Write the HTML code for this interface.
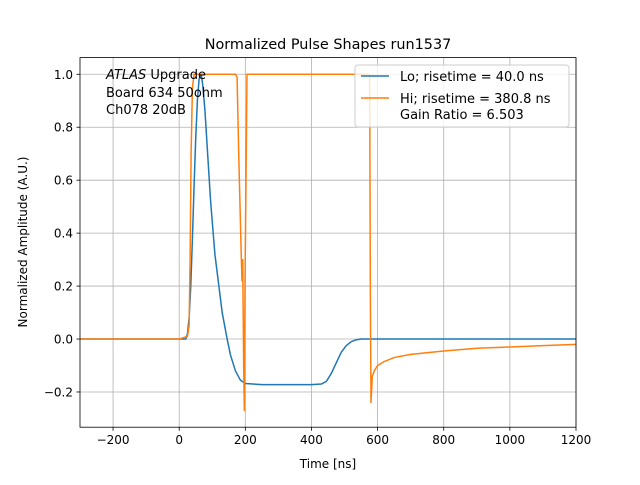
<!DOCTYPE html>
<html><head><meta charset="utf-8"><style>
body{margin:0;background:#fff}
svg text{font-family:"DejaVu Sans","Liberation Sans",sans-serif;fill:#000}
</style></head><body>
<svg id="c" width="640" height="480" xmlns="http://www.w3.org/2000/svg">
<rect width="640" height="480" fill="#fff"/>
<g id="grid"></g>
<g id="series"></g>
<rect x="80" y="57.6" width="496" height="369.6" fill="none" stroke="#000" stroke-width="0.8"/>
<g id="ticks"></g>
<text x="328" y="49" font-size="14.4" text-anchor="middle">Normalized Pulse Shapes run1537</text>
<text x="328" y="468" font-size="12" text-anchor="middle">Time [ns]</text>
<text transform="translate(27,242) rotate(-90)" font-size="12" text-anchor="middle">Normalized Amplitude (A.U.)</text>
<g font-size="13">
<text x="106" y="79"><tspan font-style="italic">ATLAS</tspan> Upgrade</text>
<text x="106" y="97"> Board 634 50ohm</text>
<text x="106" y="114"> Ch078 20dB</text>
</g>
<g>
<rect x="355" y="65" width="214" height="62" rx="3" fill="#fff" fill-opacity="0.8" stroke="#ccc"/>
<line x1="361" y1="76" x2="389" y2="76" stroke="#1f77b4" stroke-width="1.5"/>
<text x="400" y="81" font-size="13">Lo; risetime = 40.0 ns</text>
<line x1="361" y1="98" x2="389" y2="98" stroke="#ff7f0e" stroke-width="1.5"/>
<text x="400" y="103" font-size="13">Hi; risetime = 380.8 ns</text>
<text x="400" y="119" font-size="13"> Gain Ratio = 6.503</text>
</g>
</svg>
<script>
const xTicks=[-200,0,200,400,600,800,1000,1200];
const yTicks=[-0.2,0,0.2,0.4,0.6,0.8,1.0];
const loT=[-300,0,20,25,30,35,40,45,50,55,60,65,68,72,78,85,95,108,110,120,130,145,155,170,185,200,250,300,350,400,430,445,460,475,490,505,520,535,550,600,800,1000,1200];
const loV=[0,0,0,0.02,0.08,0.2,0.38,0.58,0.76,0.9,0.98,1.0,0.99,0.95,0.86,0.72,0.52,0.32,0.3,0.2,0.1,0.0,-0.06,-0.12,-0.155,-0.168,-0.172,-0.172,-0.172,-0.172,-0.17,-0.16,-0.13,-0.09,-0.05,-0.025,-0.01,-0.003,0,0,0,0,0];
const hiT=[-300,0,25,30,33,36,40,45,170,175,180,188,190,192,195,197,199,205,210,400,574,576,578,580,584,590,600,620,650,700,800,900,1000,1100,1200];
const hiV=[0,0,0.01,0.05,0.3,0.7,0.95,1.0,1.0,0.99,0.7,0.3,0.22,0.3,-0.1,-0.27,0.2,1.0,1.0,1.0,1.0,0.99,0.2,-0.24,-0.14,-0.12,-0.1,-0.085,-0.07,-0.058,-0.045,-0.035,-0.03,-0.025,-0.02];
const X0=80,X1=576,Y0=427.2,Y1=57.6,xmin=-300,xmax=1200,ymin=-0.333,ymax=1.063;
const sx=t=>X0+(t-xmin)/(xmax-xmin)*(X1-X0);
const sy=v=>Y0-(v-ymin)/(ymax-ymin)*(Y0-Y1);
const NS='http://www.w3.org/2000/svg';
const grid=document.getElementById('grid'),tk=document.getElementById('ticks'),ser=document.getElementById('series');
function mk(tag,attrs,parent){const e=document.createElementNS(NS,tag);for(const k in attrs)e.setAttribute(k,attrs[k]);parent.appendChild(e);return e;}
xTicks.forEach(t=>{const x=sx(t);
const g=mk('line',{x1:x,x2:x,y1:Y1,y2:Y0,stroke:'#b0b0b0','stroke-width':0.8},grid);


mk('line',{x1:x,x2:x,y1:Y0,y2:Y0+3.5,stroke:'#000','stroke-width':0.8},tk);
const l=mk('text',{x:x,y:Y0+17,'font-size':12,'text-anchor':'middle'},tk);l.textContent=String(t).replace('-','\u2212');

});
yTicks.forEach(v=>{const y=sy(v);
const g=mk('line',{x1:X0,x2:X1,y1:y,y2:y,stroke:'#b0b0b0','stroke-width':0.8},grid);


mk('line',{x1:X0-3.5,x2:X0,y1:y,y2:y,stroke:'#000','stroke-width':0.8},tk);
const l=mk('text',{x:X0-7,y:y+4.5,'font-size':12,'text-anchor':'end'},tk);l.textContent=v.toFixed(1).replace('-','\u2212');

});
function line(T,V,c,name){const p=mk('polyline',{points:T.map((t,i)=>sx(t)+','+sy(V[i])).join(' '),fill:'none',stroke:c,'stroke-width':1.5,'stroke-linejoin':'round'},ser);

}
line(loT,loV,'#1f77b4','lo-series');
line(hiT,hiV,'#ff7f0e','hi-series');
</script>
</body></html>
